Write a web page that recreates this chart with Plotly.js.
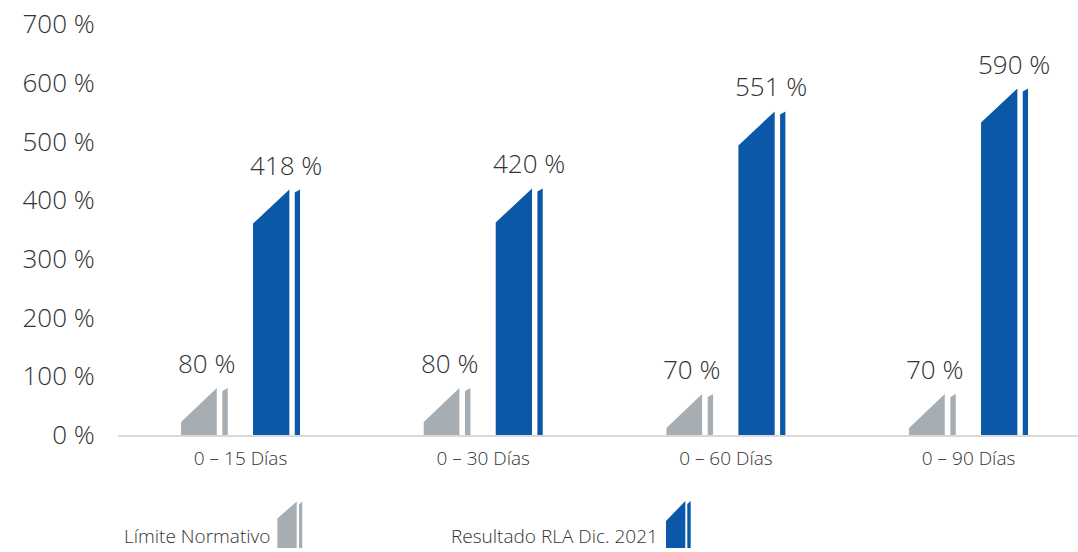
<!DOCTYPE html>
<html>
<head>
<meta charset="utf-8">
<script src="https://cdn.plot.ly/plotly-3.0.1.min.js"></script>
<style>html,body{margin:0;padding:0;background:#fff;}#chart{width:1078px;height:552px;}</style>
</head>
<body>
<div id="chart"></div>
<script>
// ---- data ----
const categories = ['0 – 15 Días', '0 – 30 Días', '0 – 60 Días', '0 – 90 Días'];
const limiteNormativo = [80, 80, 70, 70];
const resultadoRLA = [418, 420, 551, 590];
const seriesNames = ['Límite Normativo', 'Resultado RLA Dic. 2021'];
const yTickValues = [0, 100, 200, 300, 400, 500, 600, 700];

// ---- style / geometry constants ----
const W = 1078, H = 552;
const M = {l: 118, r: 0, t: 24, b: 117};
const plotW = W - M.l - M.r, plotH = H - M.t - M.b;
const xRange = [-0.505, 3.451];
const yRange = [0, 700];
const pxPerX = plotW / (xRange[1] - xRange[0]);
const pxPerY = plotH / (yRange[1] - yRange[0]);
const GRAY = '#a7aeb3', BLUE = '#0a58a7', TXT = '#333333';
const FONT = '"Open Sans", "Noto Sans", sans-serif';
const FW = 300;
const BIG = 26, SMALL = 19;
// offsets (px) from category centre: [mainLeft, mainRight, stripeLeft, stripeRight]
const geom = {
  gray: [-59.5, -23.8, -18.2, -12.8],
  blue: [12.5, 48.8, 54.2, 59.5]
};
const slantPx = 34, stripeSlantPx = 3;

function barPolys(values, g) {
  const mx = [], my = [], sx = [], sy = [];
  values.forEach((v, i) => {
    const a = i + g[0] / pxPerX, b = i + g[1] / pxPerX;
    const c = i + g[2] / pxPerX, d = i + g[3] / pxPerX;
    const dropMain = slantPx / pxPerY, dropStripe = stripeSlantPx / pxPerY;
    mx.push(a, a, b, b, a, null); my.push(0, Math.max(0, v - dropMain), v, 0, 0, null);
    sx.push(c, c, d, d, c, null); sy.push(0, v - dropStripe, v, 0, 0, null);
  });
  return {mx, my, sx, sy};
}

const traces = [];
[[limiteNormativo, geom.gray, GRAY, seriesNames[0]], [resultadoRLA, geom.blue, BLUE, seriesNames[1]]].forEach(([vals, g, col, name]) => {
  const p = barPolys(vals, g);
  traces.push({x: p.mx, y: p.my, type: 'scatter', mode: 'lines', fill: 'toself', fillcolor: col,
    line: {width: 0, color: col}, name: name, hoverinfo: 'skip', showlegend: false});
  traces.push({x: p.sx, y: p.sy, type: 'scatter', mode: 'lines', fill: 'toself', fillcolor: col,
    line: {width: 0, color: col}, name: name, hoverinfo: 'skip', showlegend: false});
});

const annotations = [];
[[limiteNormativo, geom.gray], [resultadoRLA, geom.blue]].forEach(([vals, g]) => {
  vals.forEach((v, i) => {
    annotations.push({x: i + g[0] / pxPerX, y: v, xref: 'x', yref: 'y', text: v + ' %',
      showarrow: false, xanchor: 'left', yanchor: 'middle', xshift: -5, yshift: 25,
      font: {family: FONT, size: BIG, color: TXT, weight: FW}});
  });
});

// legend (paper coords from pixel positions)
const px2x = px => (px - M.l) / plotW;
const py2y = py => (M.t + plotH - py) / plotH;
annotations.push({xref: 'paper', yref: 'paper', x: px2x(272), y: py2y(536), xanchor: 'right', yanchor: 'middle',
  text: seriesNames[0], showarrow: false, font: {family: FONT, size: SMALL, color: TXT, weight: FW}});
annotations.push({xref: 'paper', yref: 'paper', x: px2x(660), y: py2y(536), xanchor: 'right', yanchor: 'middle',
  text: seriesNames[1], showarrow: false, font: {family: FONT, size: SMALL, color: TXT, weight: FW}});

function iconPath(x0, x1, s0, s1, top, leftTop, bottom) {
  const X = px2x, Y = py2y;
  return [
    `M${X(x0)},${Y(bottom)} L${X(x0)},${Y(leftTop)} L${X(x1)},${Y(top)} L${X(x1)},${Y(bottom)} Z`,
    `M${X(s0)},${Y(bottom)} L${X(s0)},${Y(top + 3)} L${X(s1)},${Y(top)} L${X(s1)},${Y(bottom)} Z`
  ];
}
const shapes = [];
iconPath(277.3, 296.7, 299, 302.3, 501.5, 518.5, 548).forEach(p => shapes.push({type: 'path', xref: 'paper', yref: 'paper', path: p, fillcolor: GRAY, line: {width: 0}}));
iconPath(666, 685.3, 687.3, 690.7, 501, 521, 548).forEach(p => shapes.push({type: 'path', xref: 'paper', yref: 'paper', path: p, fillcolor: BLUE, line: {width: 0}}));

const layout = {
  width: W, height: H, margin: M,
  paper_bgcolor: '#ffffff', plot_bgcolor: '#ffffff',
  showlegend: false,
  xaxis: {range: xRange, tickvals: categories.map((c, i) => i), ticktext: categories,
    showgrid: false, zeroline: false, showline: true, linecolor: '#d9d9d9', linewidth: 2,
    ticks: 'outside', ticklen: 5, tickcolor: 'rgba(0,0,0,0)',
    tickfont: {family: FONT, size: SMALL, color: TXT, weight: FW}, fixedrange: true},
  yaxis: {range: yRange, tickvals: yTickValues, ticktext: yTickValues.map(v => v + ' %'),
    showgrid: false, zeroline: false, showline: false,
    ticks: 'outside', ticklen: 17, tickcolor: 'rgba(0,0,0,0)',
    tickfont: {family: FONT, size: BIG, color: TXT, weight: FW}, fixedrange: true},
  annotations: annotations,
  shapes: shapes
};

Plotly.newPlot('chart', traces, layout, {displayModeBar: false, staticPlot: true});
</script>
</body>
</html>
